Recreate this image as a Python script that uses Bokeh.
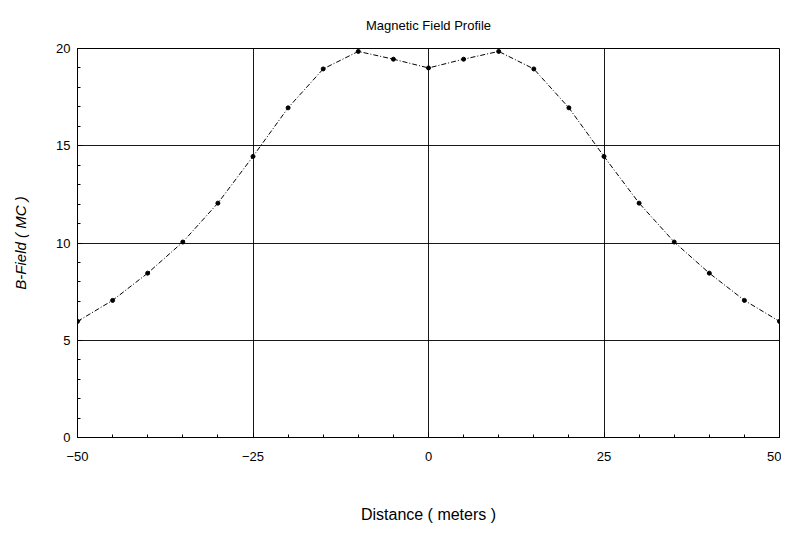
from bokeh.plotting import figure
from bokeh.models import Range1d, FixedTicker
from bokeh.embed import file_html
from bokeh.resources import INLINE

distance = [-50, -45, -40, -35, -30, -25, -20, -15, -10, -5, 0,
            5, 10, 15, 20, 25, 30, 35, 40, 45, 50]
b_field = [5.97, 7.05, 8.45, 10.05, 12.05, 14.45, 16.95, 18.95, 19.85, 19.45, 19.0,
           19.45, 19.85, 18.95, 16.95, 14.45, 12.05, 10.05, 8.45, 7.05, 5.97]
x_ticks = [-50, -25, 0, 25, 50]
y_ticks = [0, 5, 10, 15, 20]

FONT = "Liberation Sans"

p = figure(width=781, height=525, output_backend="svg", toolbar_location=None,
           x_range=Range1d(-50, 50), y_range=Range1d(0, 20),
           min_border_left=77, min_border_right=2, min_border_top=48, min_border_bottom=79,
           title="Magnetic Field Profile")
p.title.align = "center"
p.title.vertical_align = "top"
p.title.text_font = FONT
p.title.text_font_size = "13px"
p.title.text_font_style = "normal"
p.title.text_color = "black"
p.title.standoff = 27

p.outline_line_color = "black"
p.outline_line_width = 1
p.background_fill_color = "white"
p.border_fill_color = "white"

p.xaxis.ticker = FixedTicker(ticks=x_ticks, minor_ticks=list(range(-50, 51, 5)))
p.yaxis.ticker = FixedTicker(ticks=y_ticks, minor_ticks=list(range(0, 21, 1)))

for ax in (p.xaxis[0], p.yaxis[0]):
    ax.axis_line_color = "black"
    ax.major_tick_in = 5
    ax.major_tick_out = 0
    ax.minor_tick_in = 3
    ax.minor_tick_out = 0
    ax.major_tick_line_color = "black"
    ax.minor_tick_line_color = "black"
    ax.major_label_text_font = FONT
    ax.major_label_text_font_size = "13px"
    ax.major_label_text_color = "black"
    ax.axis_label_text_font = FONT
    ax.axis_label_text_color = "black"

p.xaxis.axis_label = "Distance ( meters )"
p.xaxis.axis_label_text_font_size = "16px"
p.xaxis.axis_label_text_font_style = "normal"
p.xaxis.major_label_standoff = 14
p.xaxis.axis_label_standoff = 42
p.yaxis.axis_label = "B-Field ( MC )"
p.yaxis.axis_label_text_font_size = "15px"
p.yaxis.axis_label_text_font_style = "italic"
p.yaxis.major_label_standoff = 7
p.yaxis.axis_label_standoff = 24

p.xgrid.ticker = FixedTicker(ticks=x_ticks)
p.ygrid.ticker = FixedTicker(ticks=y_ticks)
p.grid.grid_line_color = "black"
p.grid.grid_line_width = 1
p.grid.grid_line_alpha = 0.9

p.line(distance, b_field, line_color="black", line_width=1, line_dash="5 2 1 2")
p.scatter(distance, b_field, marker="circle", size=4, fill_color="black", line_color="black")

open("out.html", "w").write(file_html(p, INLINE))
